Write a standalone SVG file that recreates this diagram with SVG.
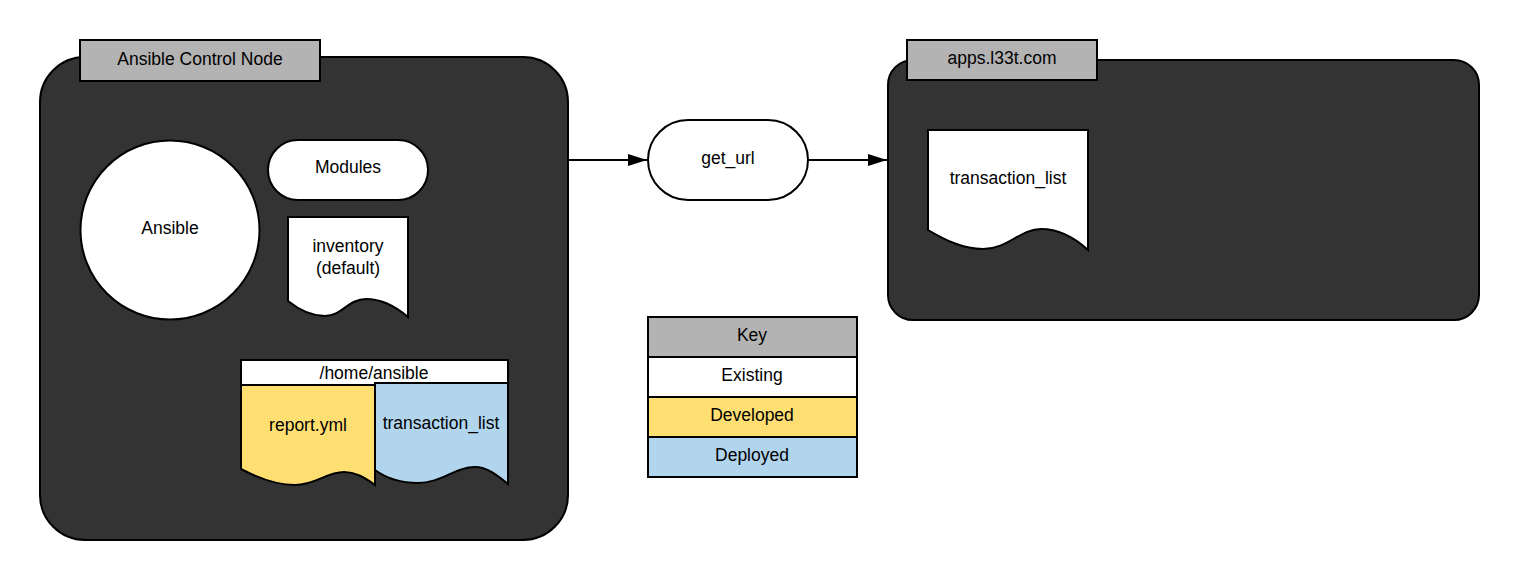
<svg xmlns="http://www.w3.org/2000/svg" width="1519" height="580" viewBox="0 0 1519 580">
<defs>
<style>
text{font-family:"Liberation Sans",Arial,sans-serif;font-size:17.5px;fill:#000;text-anchor:middle;dominant-baseline:central}
.s{stroke:#000;stroke-width:2}
.dark{fill:#333333}
.gray{fill:#b3b3b3}
.white{fill:#ffffff}
.yel{fill:#ffdf71}
.blue{fill:#b2d5ee}
.conn{stroke:#000;stroke-width:2;fill:none}
</style>
<marker id="ah" markerWidth="20" markerHeight="12" refX="19" refY="6" orient="auto" markerUnits="userSpaceOnUse">
<path d="M0,0 L19,6 L0,12 Z" fill="#000"/>
</marker>
</defs>
<rect width="1519" height="580" fill="#ffffff"/>

<g id="control-node">
<rect class="s dark" x="40" y="57" width="528" height="483" rx="45" ry="45"/>
<rect class="s gray" x="80" y="40" width="240" height="41"/>
<text x="200" y="59">Ansible Control Node</text>
</g>

<g id="apps-host">
<rect class="s dark" x="888" y="60" width="591" height="260" rx="25" ry="25"/>
<rect class="s gray" x="907" y="40" width="190" height="40"/>
<text x="1002" y="58">apps.l33t.com</text>
</g>

<g id="ansible">
<circle class="s white" cx="170" cy="230" r="89.5"/>
<text x="170" y="228">Ansible</text>
</g>

<g id="modules">
<rect class="s white" x="268" y="140" width="160" height="60" rx="30" ry="30"/>
<text x="348" y="167">Modules</text>
</g>

<g id="inventory">
<path class="s white" d="M288,217 H408 V317 C394,305 380,299 366,299 C348,299 342,316 325,316 C310,316 298,309 288,301 Z"/>
<text x="348" y="246">inventory</text>
<text x="348" y="268">(default)</text>
</g>

<g id="home-ansible">
<rect class="s white" x="241" y="360" width="267" height="25"/>
<text x="374" y="373">/home/ansible</text>
</g>

<g id="report-yml">
<path class="s yel" d="M241,385 H375 V485 C364,477 355,472 344,472 C326,472 316,485 295,485 C276,485 258,478 241,469 Z"/>
<text x="308" y="425">report.yml</text>
</g>

<g id="transaction-list-local">
<path class="s blue" d="M375,383 H508 V484 C497,475 487,467 475,467 C455,467 441,483 418,483 C400,483 386,478 375,470 Z"/>
<text x="441" y="423">transaction_list</text>
</g>

<g id="get-url">
<rect class="s white" x="648" y="120" width="160" height="80" rx="40" ry="40"/>
<text x="728" y="158">get_url</text>
</g>

<g id="transaction-list-remote">
<path class="s white" d="M928,130 H1088 V250 C1075,238 1058,229 1041,229 C1020,229 1008,249 983,249 C963,249 945,240 928,230 Z"/>
<text x="1008" y="178">transaction_list</text>
</g>

<g id="key">
<rect class="s gray" x="648" y="317" width="209" height="40"/>
<text x="752" y="335">Key</text>
<rect class="s white" x="648" y="357" width="209" height="40"/>
<text x="752" y="375">Existing</text>
<rect class="s yel" x="648" y="397" width="209" height="40"/>
<text x="752" y="415">Developed</text>
<rect class="s blue" x="648" y="437" width="209" height="40"/>
<text x="752" y="455">Deployed</text>
</g>

<g id="connectors">
<line class="conn" x1="569" y1="160" x2="647" y2="160" marker-end="url(#ah)"/>
<line class="conn" x1="809" y1="160" x2="887" y2="160" marker-end="url(#ah)"/>
</g>
</svg>
